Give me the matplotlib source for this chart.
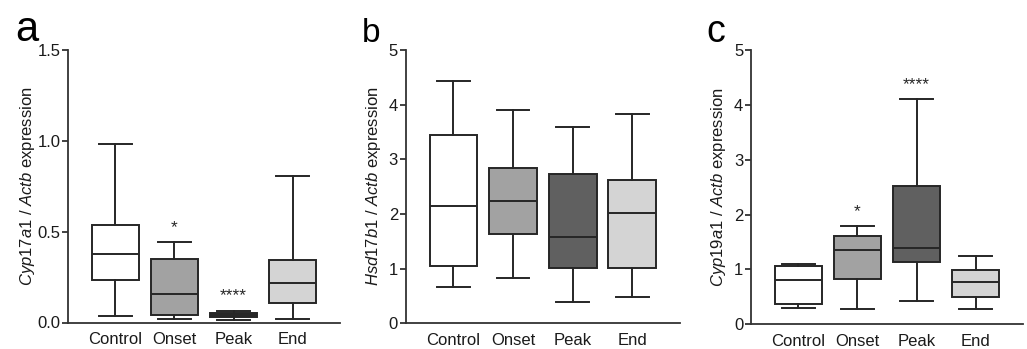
import matplotlib
matplotlib.use('Agg')
import matplotlib.pyplot as plt

plt.rcParams['font.family'] = ['Liberation Sans', 'DejaVu Sans']
plt.rcParams['mathtext.fontset'] = 'custom'
plt.rcParams['mathtext.rm'] = 'Liberation Sans'
plt.rcParams['mathtext.it'] = 'Liberation Sans:italic'

groups = ['Control', 'Onset', 'Peak', 'End']
colors = ['#ffffff', '#a2a2a2', '#606060', '#d4d4d4']

# box stats: whisker low, q1, median, q3, whisker high
cyp17_lo = [0.035, 0.022, 0.013, 0.020]
cyp17_q1 = [0.235, 0.040, 0.028, 0.110]
cyp17_med = [0.376, 0.156, 0.040, 0.220]
cyp17_q3 = [0.537, 0.347, 0.051, 0.343]
cyp17_hi = [0.980, 0.442, 0.066, 0.804]

hsd_lo = [0.66, 0.83, 0.39, 0.48]
hsd_q1 = [1.05, 1.63, 1.02, 1.02]
hsd_med = [2.15, 2.24, 1.58, 2.01]
hsd_q3 = [3.44, 2.85, 2.74, 2.62]
hsd_hi = [4.43, 3.90, 3.59, 3.83]

cyp19_lo = [0.30, 0.27, 0.42, 0.27]
cyp19_q1 = [0.37, 0.83, 1.13, 0.49]
cyp19_med = [0.80, 1.35, 1.39, 0.77]
cyp19_q3 = [1.07, 1.61, 2.53, 0.99]
cyp19_hi = [1.10, 1.79, 4.10, 1.25]

# significance marks: (group index, y value, text)
cyp17_sig = [(1, 0.52, '*'), (2, 0.15, '****')]
cyp19_sig = [(1, 2.06, '*'), (2, 4.36, '****')]

dark = '#262626'
fig = plt.figure(figsize=(10.27, 3.49), dpi=100)


def px_axes(left, right, top, bottom):
    W, H = 1027, 349
    return fig.add_axes([left / W, 1 - bottom / H, (right - left) / W, (bottom - top) / H])


def panel(ax, lo, q1, med, q3, hi, ymax, yticks, ylabel, fmt, sig, labelpad):
    stats = []
    for i in range(len(groups)):
        stats.append(dict(whislo=lo[i], q1=q1[i], med=med[i], q3=q3[i], whishi=hi[i], label=groups[i]))
    bp = ax.bxp(stats, positions=range(len(groups)), widths=0.8, showfliers=False,
                patch_artist=True,
                boxprops=dict(edgecolor=dark, linewidth=1.4),
                medianprops=dict(color=dark, linewidth=1.4),
                whiskerprops=dict(color=dark, linewidth=1.4),
                capprops=dict(color=dark, linewidth=1.4),
                capwidths=0.55)
    for patch, c in zip(bp['boxes'], colors):
        patch.set_facecolor(c)
    for i, y, s in sig:
        ax.text(i, y, s, ha='center', va='center', fontsize=12.5, color=dark)
    ax.set_xlim(-0.8, 3.8)
    ax.set_ylim(0, ymax)
    ax.set_yticks(yticks)
    ax.set_yticklabels([fmt.format(t) for t in yticks])
    ax.spines['top'].set_visible(False)
    ax.spines['right'].set_visible(False)
    for s in ['left', 'bottom']:
        ax.spines[s].set_linewidth(1.3)
        ax.spines[s].set_color('#333333')
    ax.tick_params(axis='x', length=0, pad=7, labelsize=12, labelcolor='#1a1a1a')
    ax.tick_params(axis='y', length=4, width=1.3, color='#333333', pad=1.5, labelsize=12, labelcolor='#1a1a1a')
    ax.set_ylabel(ylabel, fontsize=12, color='#1a1a1a', labelpad=labelpad)


ax_a = px_axes(68, 340, 50, 322.5)
panel(ax_a, cyp17_lo, cyp17_q1, cyp17_med, cyp17_q3, cyp17_hi, 1.5, [0, 0.5, 1.0, 1.5],
      r'$\mathit{Cyp17a1}$ / $\mathit{Actb}$ expression', '{:.1f}', cyp17_sig, 0)

ax_b = px_axes(405.7, 680, 50, 323.3)
panel(ax_b, hsd_lo, hsd_q1, hsd_med, hsd_q3, hsd_hi, 5, [0, 1, 2, 3, 4, 5],
      r'$\mathit{Hsd17b1}$ / $\mathit{Actb}$ expression', '{:g}', [], 4)

ax_c = px_axes(751, 1023, 50, 324.3)
panel(ax_c, cyp19_lo, cyp19_q1, cyp19_med, cyp19_q3, cyp19_hi, 5, [0, 1, 2, 3, 4, 5],
      r'$\mathit{Cyp19a1}$ / $\mathit{Actb}$ expression', '{:g}', cyp19_sig, 4)

fig.text(15 / 1027, 1 - 41 / 349, 'a', fontsize=30, color='black', va='baseline')
fig.text(362 / 1027, 1 - 42 / 349, 'b', fontsize=24, color='black', va='baseline')
fig.text(706 / 1027, 1 - 42 / 349, 'c', fontsize=27, color='black', va='baseline')

fig.savefig('out.png', dpi=100, facecolor='white')
